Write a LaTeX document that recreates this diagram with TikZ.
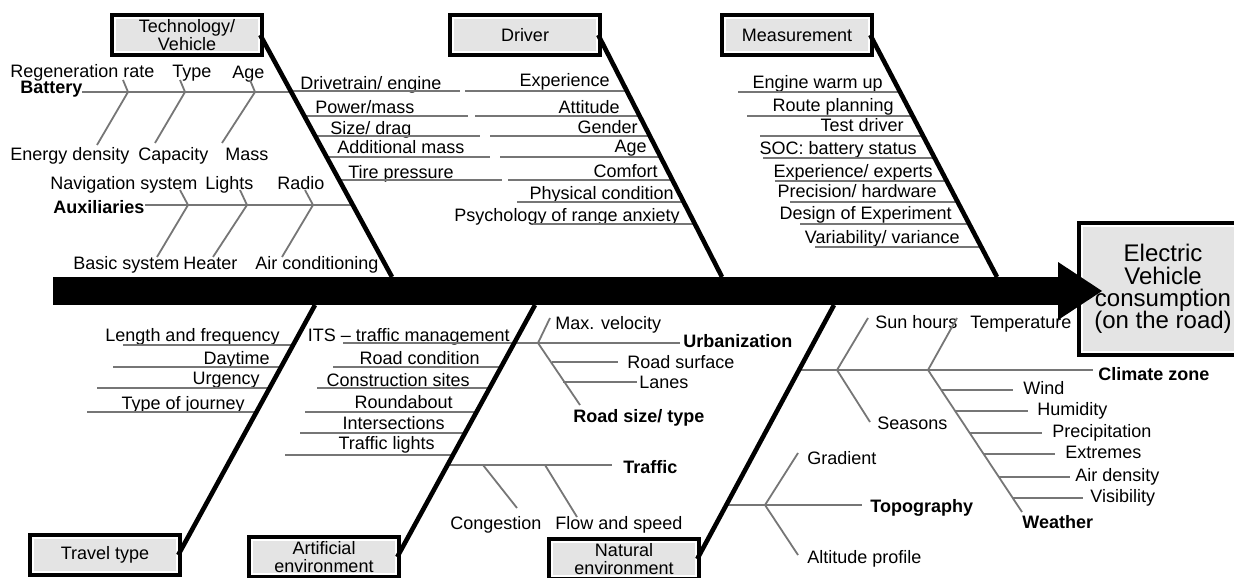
\documentclass[tikz,border=0pt]{standalone}
\usepackage{fontspec}
\setmainfont{Liberation Sans}
\usetikzlibrary{math}

\definecolor{boxgray}{RGB}{228,228,228}
\definecolor{twiggray}{RGB}{118,118,118}

\tikzset{
  catbox/.style={preaction={draw=black, line width=5pt}, draw=white, line width=1.2pt,
    fill=boxgray, minimum width=72pt, minimum height=17pt, inner sep=0pt, align=center,
    font=\fontsize{9}{9}\selectfont},
  lbl/.style={inner sep=0pt, text height=6.4pt, text depth=0pt, font=\fontsize{9}{10}\selectfont},
  blbl/.style={lbl, font=\fontsize{9}{10}\selectfont\bfseries},
  twig/.style={draw=twiggray, line width=0.9pt},
  bone/.style={draw=black, line width=2.3pt},
}

\begin{document}
\begin{tikzpicture}[x=0.5pt, y=-0.5pt]
    \useasboundingbox (0,0) rectangle (1234,577);
    \clip (0,0) rectangle (1234,577);

    \tikzmath{\ytop = 277; \ybot = 305;};

    \node[catbox, minimum width=81pt, minimum height=63pt, font=\fontsize{12}{11.2}\selectfont] (ev) at (1163,289) {Electric\\Vehicle\\consumption\\(on the road)};
    \fill (53,\ytop) rectangle (1060,\ybot);
    \fill (1058,262) -- (1102,291) -- (1058,320) -- cycle;

    \node[catbox] (tech) at (187,35) {Technology/\\Vehicle};
    \node[catbox] (driver) at (525,35) {Driver};
    \node[catbox] (meas) at (797,35) {Measurement};
    \node[catbox] (travel) at (105,555) {Travel type};
    \node[catbox] (artif) at (324,557) {Artificial\\environment};
    \node[catbox] (natural) at (624,559) {Natural\\environment};

    \coordinate (techfoot) at (392,\ytop);
    \coordinate (driverfoot) at (722,\ytop);
    \coordinate (measfoot) at (997,\ytop);
    \coordinate (travelfoot) at (315,\ybot);
    \coordinate (artiffoot) at (535,\ybot);
    \coordinate (naturalfoot) at (834,\ybot);

    % Technology / Vehicle
    \node[lbl, right] (regen) at (10,71) {Regeneration rate};
    \node[lbl, right] (btype) at (172,71) {Type};
    \node[lbl, right] (bage) at (232,72) {Age};
    \node[blbl, right] (battery) at (20,87) {Battery};
    \draw[twig] (82,92) -- (291,92);
    \draw[twig] (123,80) -- (128,92) -- (97,145);
    \draw[twig] (180,80) -- (185,92) -- (155,143);
    \draw[twig] (250,80) -- (255,92) -- (222,143);
    \node[lbl, right] (energy) at (10,154) {Energy density};
    \node[lbl, right] (capacity) at (138,154) {Capacity};
    \node[lbl, right] (mass) at (225,154) {Mass};

    \node[lbl, right] (navsys) at (50,183) {Navigation system};
    \node[lbl, right] (lights) at (205,183) {Lights};
    \node[lbl, right] (radio) at (277,183) {Radio};
    \node[blbl, right] (aux) at (53,207) {Auxiliaries};
    \draw[twig] (145,205) -- (353,205);
    \draw[twig] (180,190) -- (188,205) -- (157,257);
    \draw[twig] (240,190) -- (247,205) -- (213,257);
    \draw[twig] (305,190) -- (313,205) -- (282,257);
    \node[lbl, right] (basic) at (73,263) {Basic system};
    \node[lbl, right] (heater) at (183,263) {Heater};
    \node[lbl, right] (aircon) at (255,263) {Air conditioning};

    \node[lbl, right] (drive) at (300,83) {Drivetrain/ engine};
    \draw[twig] (290,91) -- (460,91);
    \node[lbl, right] (power) at (315,107) {Power/mass};
    \draw[twig] (303,116) -- (468,116);
    \node[lbl, right] (size) at (330,128) {Size/ drag};
    \draw[twig] (314,136) -- (480,136);
    \node[lbl, right] (addmass) at (337,147) {Additional mass};
    \draw[twig] (326,157) -- (490,157);
    \node[lbl, right] (tire) at (348,172) {Tire pressure};
    \draw[twig] (338,180) -- (502,180);

    \draw[bone] (tech.east) -- (techfoot);

    % Driver
    \node[lbl, left] (exper) at (610,80) {Experience};
    \draw[twig] (465,91) -- (626,91);
    \node[lbl, left] (attitude) at (620,107) {Attitude};
    \draw[twig] (475,116) -- (639,116);
    \node[lbl, left] (gender) at (638,127) {Gender};
    \draw[twig] (490,136) -- (649,136);
    \node[lbl, left] (dage) at (647,146) {Age};
    \draw[twig] (500,157) -- (660,157);
    \node[lbl, left] (comfort) at (658,171) {Comfort};
    \draw[twig] (508,180) -- (672,180);
    \node[lbl, left] (physical) at (674,193) {Physical condition};
    \draw[twig] (517,202) -- (683,202);
    \node[lbl, left] (psych) at (680,215) {Psychology of range anxiety};
    \draw[twig] (533,224) -- (695,224);

    \draw[bone] (driver.east) -- (driverfoot);

    % Measurement
    \node[lbl, left] (warm) at (883,82) {Engine warm up};
    \draw[twig] (738,92) -- (899,92);
    \node[lbl, left] (route) at (894,105) {Route planning};
    \draw[twig] (747,116) -- (912,116);
    \node[lbl, left] (testdrv) at (904,125) {Test driver};
    \draw[twig] (760,136) -- (922,136);
    \node[lbl, left] (soc) at (917,148) {SOC: battery status};
    \draw[twig] (763,158) -- (934,158);
    \node[lbl, left] (expexp) at (933,171) {Experience/ experts};
    \draw[twig] (775,181) -- (946,181);
    \node[lbl, left] (precision) at (937,191) {Precision/ hardware};
    \draw[twig] (790,202) -- (957,202);
    \node[lbl, left] (design) at (952,213) {Design of Experiment};
    \draw[twig] (800,224) -- (969,224);
    \node[lbl, left] (variab) at (960,237) {Variability/ variance};
    \draw[twig] (815,247) -- (981,247);

    \draw[bone] (meas.east) -- (measfoot);

    % Travel type
    \node[lbl, left] (lenfreq) at (280,335) {Length and frequency};
    \draw[twig] (123,345) -- (293,345);
    \node[lbl, left] (daytime) at (270,358) {Daytime};
    \draw[twig] (113,367) -- (281,367);
    \node[lbl, left] (urgency) at (260,378) {Urgency};
    \draw[twig] (97,388) -- (269,388);
    \node[lbl, left] (journey) at (245,403) {Type of journey};
    \draw[twig] (87,412) -- (256,412);

    \draw[bone] (travelfoot) -- (travel.east);

    % Artificial environment
    \node[lbl, left] (its) at (510,335) {ITS – traffic management};
    \draw[twig] (343,343) -- (514,343);
    \node[lbl, left] (roadcond) at (480,358) {Road condition};
    \draw[twig] (333,367) -- (501,367);
    \node[lbl, left] (constr) at (470,380) {Construction sites};
    \draw[twig] (317,388) -- (489,388);
    \node[lbl, left] (roundab) at (453,402) {Roundabout};
    \draw[twig] (305,412) -- (476,412);
    \node[lbl, left] (intersec) at (445,423) {Intersections};
    \draw[twig] (300,433) -- (464,433);
    \node[lbl, left] (tlights) at (435,443) {Traffic lights};
    \draw[twig] (285,455) -- (452,455);

    \draw[twig] (514,343) -- (680,343);
    \node[blbl, right] (urban) at (683,341) {Urbanization};
    \node[lbl, right] (maxvel) at (555,323) {Max. velocity};
    \draw[twig] (550,318) -- (538,343) -- (580,405);
    \node[blbl, right] (roadsize) at (573,416) {Road size/ type};
    \draw[twig] (552,362) -- (618,362);
    \node[lbl, right] (roadsurf) at (627,362) {Road surface};
    \draw[twig] (563,382) -- (637,382);
    \node[lbl, right] (lanes) at (639,382) {Lanes};

    \draw[twig] (447,465) -- (612,465);
    \node[blbl, right] (traffic) at (623,467) {Traffic};
    \draw[twig] (483,465) -- (517,508);
    \node[lbl, right] (congest) at (450,523) {Congestion};
    \draw[twig] (545,465) -- (577,517);
    \node[lbl, right] (flow) at (555,523) {Flow and speed};

    \draw[bone] (artiffoot) -- (artif.east);

    % Natural environment
    \draw[twig] (798,370) -- (1093,370);
    \node[blbl, right] (climate) at (1098,374) {Climate zone};
    \draw[twig] (868,318) -- (837,370) -- (870,422);
    \node[lbl, right] (sunhours) at (875,322) {Sun hours};
    \node[lbl, right] (seasons) at (877,423) {Seasons};
    \draw[twig] (957,318) -- (928,370) -- (1022,512);
    \node[lbl, right] (temp) at (970,322) {Temperature};
    \node[blbl, right] (weather) at (1022,522) {Weather};
    \draw[twig] (941,390) -- (1013,390);
    \node[lbl, right] (wind) at (1023,388) {Wind};
    \draw[twig] (955,411) -- (1028,411);
    \node[lbl, right] (humid) at (1037,409) {Humidity};
    \draw[twig] (970,433) -- (1042,433);
    \node[lbl, right] (precip) at (1052,431) {Precipitation};
    \draw[twig] (984,454) -- (1055,454);
    \node[lbl, right] (extremes) at (1065,452) {Extremes};
    \draw[twig] (999,477) -- (1070,477);
    \node[lbl, right] (airdens) at (1075,475) {Air density};
    \draw[twig] (1013,498) -- (1083,498);
    \node[lbl, right] (visib) at (1090,496) {Visibility};

    \draw[twig] (725,505) -- (862,505);
    \node[blbl, right] (topo) at (870,506) {Topography};
    \draw[twig] (798,453) -- (765,505) -- (798,555);
    \node[lbl, right] (gradient) at (807,458) {Gradient};
    \node[lbl, right] (altitude) at (807,557) {Altitude profile};

    \draw[bone] (naturalfoot) -- (natural.east);

\end{tikzpicture}
\end{document}
